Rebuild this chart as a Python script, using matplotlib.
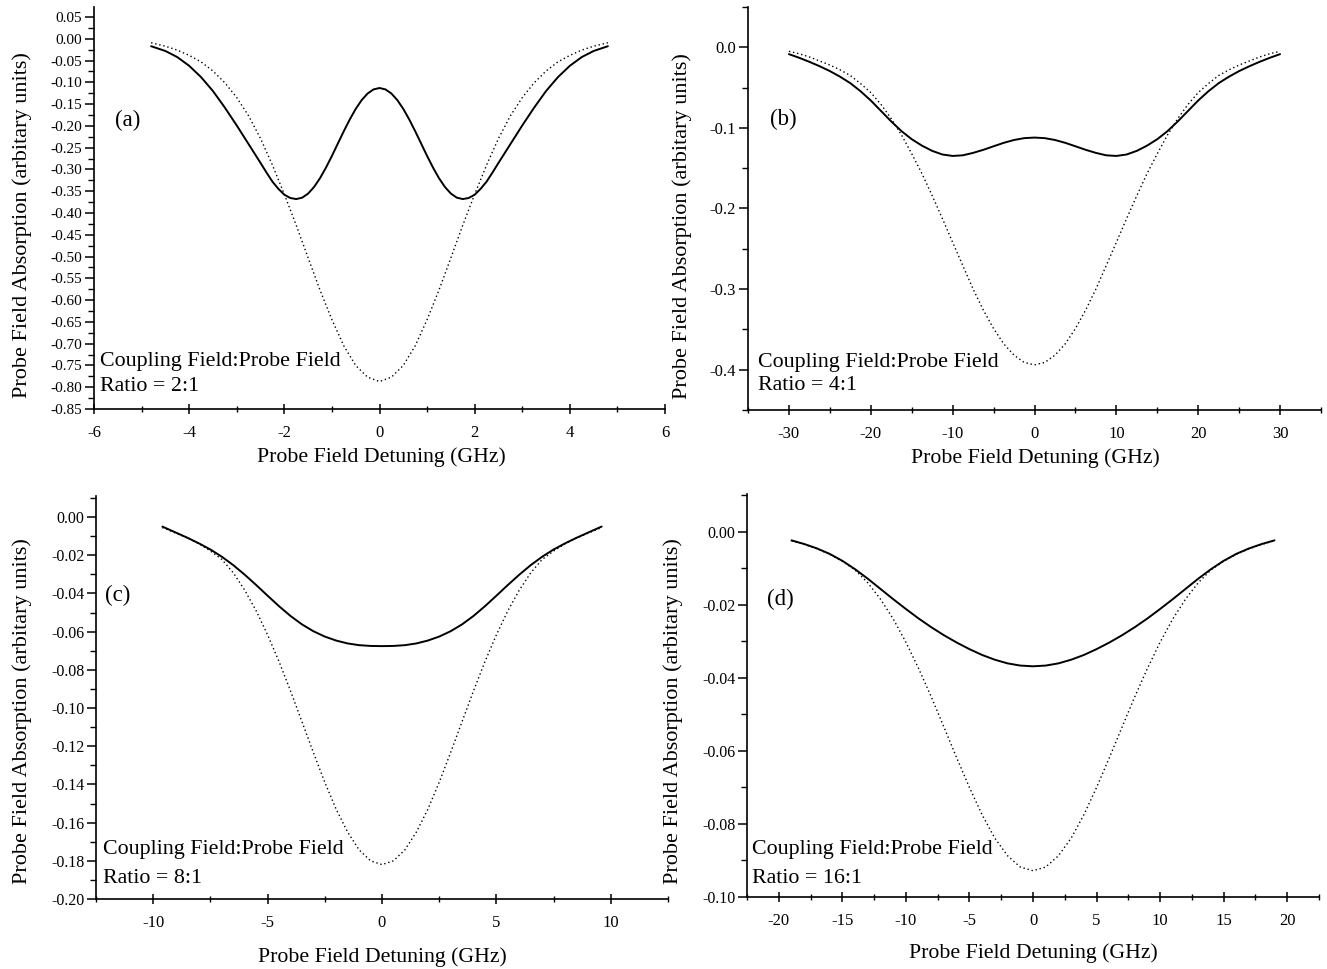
import matplotlib
matplotlib.use("Agg")
import matplotlib.pyplot as plt
from matplotlib.ticker import MultipleLocator, FuncFormatter

plt.rcParams['font.family'] = ['Liberation Serif', 'DejaVu Serif']
plt.rcParams['axes.unicode_minus'] = False

# ---------------- data ----------------
# Panel (a)  ratio 2:1  -- solid (with coupling field)
detuning_a_solid = [-4.8, -4.5, -4.25, -4.0, -3.75, -3.5, -3.25, -3.0, -2.75, -2.5, -2.375, -2.25, -2.125,
                    -2.0, -1.875, -1.75, -1.625, -1.5, -1.375, -1.25, -1.125, -1.0, -0.875, -0.75, -0.625,
                    -0.5, -0.375, -0.25, -0.125, 0.0, 0.125, 0.25, 0.375, 0.5, 0.625, 0.75, 0.875, 1.0,
                    1.125, 1.25, 1.375, 1.5, 1.625, 1.75, 1.875, 2.0, 2.125, 2.25, 2.375, 2.5, 2.75, 3.0,
                    3.25, 3.5, 3.75, 4.0, 4.25, 4.5, 4.8]
coupled_a = [-0.017, -0.028, -0.042, -0.062, -0.088, -0.120, -0.158, -0.199, -0.242, -0.285, -0.307, -0.328, -0.3445,
             -0.358, -0.3655, -0.368, -0.3648, -0.3554, -0.3402, -0.3200, -0.2958, -0.2689, -0.2405, -0.2121, -0.1852,
             -0.1610, -0.1408, -0.1256, -0.1162, -0.113, -0.1162, -0.1256, -0.1408, -0.1610, -0.1852, -0.2121, -0.2405, -0.2689,
             -0.2958, -0.3200, -0.3402, -0.3554, -0.3648, -0.368, -0.3655, -0.358, -0.3445, -0.328, -0.307, -0.285, -0.242, -0.199,
             -0.158, -0.120, -0.088, -0.062, -0.042, -0.028, -0.017]
# Panel (a) dotted (no coupling field)
detuning_a_dot = [-4.8, -4.5, -4.25, -4.0, -3.75, -3.5, -3.25, -3.0, -2.75, -2.5, -2.25, -2.0,
                  -1.75, -1.5, -1.25, -1.0, -0.75, -0.5, -0.25, 0.0, 0.25, 0.5, 0.75, 1.0,
                  1.25, 1.5, 1.75, 2.0, 2.25, 2.5, 2.75, 3.0, 3.25, 3.5, 3.75, 4.0, 4.25, 4.5, 4.8]
bare_a = [-0.009, -0.017, -0.026, -0.038, -0.053, -0.074, -0.101, -0.135, -0.177, -0.229, -0.290, -0.357,
          -0.428, -0.503, -0.577, -0.645, -0.705, -0.750, -0.777, -0.787, -0.777, -0.750, -0.705, -0.645,
          -0.577, -0.503, -0.428, -0.357, -0.290, -0.229, -0.177, -0.135, -0.101, -0.074, -0.053, -0.038, -0.026, -0.017, -0.009]

# Panel (b)  ratio 4:1
detuning_b = [-30.0, -28.75, -27.5, -26.25, -25.0, -23.75, -22.5, -21.25, -20.0, -18.75, -17.5, -16.25,
              -15.0, -13.75, -12.5, -11.25, -10.0, -8.75, -7.5, -6.25, -5.0, -3.75, -2.5, -1.25, 0.0,
              1.25, 2.5, 3.75, 5.0, 6.25, 7.5, 8.75, 10.0, 11.25, 12.5, 13.75, 15.0, 16.25, 17.5,
              18.75, 20.0, 21.25, 22.5, 23.75, 25.0, 26.25, 27.5, 28.75, 30.0]
coupled_b = [-0.0085, -0.0130, -0.0180, -0.0235, -0.0295, -0.0365, -0.0445, -0.0545, -0.0660, -0.0790, -0.0920, -0.1040,
             -0.1140, -0.1220, -0.1285, -0.1330, -0.1348, -0.1340, -0.1310, -0.1272, -0.1228, -0.1185, -0.1150, -0.1127, -0.1120,
             -0.1127, -0.1150, -0.1185, -0.1228, -0.1272, -0.1310, -0.1340, -0.1348, -0.1330, -0.1285, -0.1220, -0.1140, -0.1040, -0.0920,
             -0.0790, -0.0660, -0.0545, -0.0445, -0.0365, -0.0295, -0.0235, -0.0180, -0.0130, -0.0085]
bare_b = [-0.005, -0.008, -0.012, -0.017, -0.022, -0.028, -0.035, -0.045, -0.0562, -0.0709, -0.0885, -0.1087,
          -0.132, -0.1567, -0.184, -0.2125, -0.242, -0.271, -0.300, -0.326, -0.349, -0.368, -0.382, -0.391, -0.394,
          -0.391, -0.382, -0.368, -0.349, -0.326, -0.300, -0.271, -0.242, -0.2125, -0.184, -0.1567, -0.132, -0.1087, -0.0885,
          -0.0709, -0.0562, -0.045, -0.035, -0.028, -0.022, -0.017, -0.012, -0.008, -0.005]

# Panel (c)  ratio 8:1
detuning_c = [-9.6, -9.0, -8.5, -8.0, -7.5, -7.0, -6.5, -6.0, -5.5, -5.0, -4.5, -4.0, -3.5, -3.0, -2.5, -2.0,
              -1.5, -1.0, -0.5, 0.0, 0.5, 1.0, 1.5, 2.0, 2.5, 3.0, 3.5, 4.0, 4.5, 5.0, 5.5, 6.0, 6.5,
              7.0, 7.5, 8.0, 8.5, 9.0, 9.6]
coupled_c = [-0.0050, -0.0082, -0.0109, -0.0138, -0.0170, -0.0208, -0.0252, -0.0302, -0.0356, -0.0412, -0.0467,
             -0.0518, -0.0562, -0.0598, -0.0626, -0.0647, -0.0662, -0.0671, -0.0675, -0.0676, -0.0675, -0.0671,
             -0.0662, -0.0647, -0.0626, -0.0598, -0.0562, -0.0518, -0.0467, -0.0412, -0.0356, -0.0302, -0.0252,
             -0.0208, -0.0170, -0.0138, -0.0109, -0.0082, -0.0050]
bare_c = [-0.0055, -0.0085, -0.0110, -0.0140, -0.0178, -0.0222, -0.0292, -0.0383, -0.0491, -0.0617, -0.0757,
          -0.0910, -0.1071, -0.1233, -0.1389, -0.1531, -0.1650, -0.1743, -0.1800, -0.1820, -0.1800, -0.1743,
          -0.1650, -0.1531, -0.1389, -0.1233, -0.1071, -0.0910, -0.0757, -0.0617, -0.0491, -0.0383, -0.0292,
          -0.0222, -0.0178, -0.0140, -0.0110, -0.0085, -0.0055]

# Panel (d)  ratio 16:1
detuning_d = [-19, -18, -17, -16, -15, -14, -13, -12, -11, -10, -9, -8, -7, -6, -5, -4, -3, -2, -1, 0,
              1, 2, 3, 4, 5, 6, 7, 8, 9, 10, 11, 12, 13, 14, 15, 16, 17, 18, 19]
coupled_d = [-0.0023, -0.0033, -0.0045, -0.0060, -0.0079, -0.0102, -0.0128, -0.0156, -0.0184, -0.0211,
             -0.0237, -0.0261, -0.0283, -0.0303, -0.0321, -0.0337, -0.0350, -0.0360, -0.0366, -0.0368,
             -0.0366, -0.0360, -0.0350, -0.0337, -0.0321, -0.0303, -0.0283, -0.0261, -0.0237, -0.0211,
             -0.0184, -0.0156, -0.0128, -0.0102, -0.0079, -0.0060, -0.0045, -0.0033, -0.0023]
bare_d = [-0.0024, -0.0034, -0.0046, -0.0061, -0.0080, -0.0104, -0.0139, -0.0184, -0.0238, -0.0302,
          -0.0374, -0.0452, -0.0535, -0.0619, -0.0700, -0.0775, -0.0839, -0.0887, -0.0918, -0.0928,
          -0.0918, -0.0887, -0.0839, -0.0775, -0.0700, -0.0619, -0.0535, -0.0452, -0.0374, -0.0302,
          -0.0238, -0.0184, -0.0139, -0.0104, -0.0080, -0.0061, -0.0046, -0.0034, -0.0024]

panel_tags = ["(a)", "(b)", "(c)", "(d)"]
ratio_texts = ["Ratio = 2:1", "Ratio = 4:1", "Ratio = 8:1", "Ratio = 16:1"]
coupling_text = "Coupling Field:Probe Field"
x_label = "Probe Field Detuning (GHz)"
y_label = "Probe Field Absorption (arbitary units)"

# ---------------- layout ----------------
fig = plt.figure(figsize=(13.27, 9.69), dpi=100)
W, H = 1327.0, 969.0

def rect(l, r, t, b):
    return [l / W, 1 - b / H, (r - l) / W, (b - t) / H]

specs = [
    dict(rect=rect(94, 665, 7, 409), xs=detuning_a_solid, s=coupled_a, xd=detuning_a_dot, d=bare_a,
         xlim=(-6, 6), ylim=(-0.85, 0.073), xmaj=2, xmin=1, ymaj=0.05, ymin=0.025, yfmt="%.2f",
         tag=(0.037, 0.719), coup=(0.011, 0.117), rat=(0.011, 0.057),
         ylab=(-0.126, 0.458), xlab=(0.503, -0.119), ytsize=11),
    dict(rect=rect(748, 1321, 7, 410), xs=detuning_b, s=coupled_b, xd=detuning_b, d=bare_b,
         xlim=(-35, 35), ylim=(-0.45, 0.05), xmaj=10, xmin=5, ymaj=0.1, ymin=0.05, yfmt="%.1f",
         tag=(0.038, 0.72), coup=(0.017, 0.119), rat=(0.017, 0.062),
         ylab=(-0.115, 0.457), xlab=(0.501, -0.119), ytsize=12),
    dict(rect=rect(96, 668, 496, 899), xs=detuning_c, s=coupled_c, xd=detuning_c, d=bare_c,
         xlim=(-12.5, 12.5), ylim=(-0.20, 0.011), xmaj=5, xmin=2.5, ymaj=0.02, ymin=0.01, yfmt="%.2f",
         tag=(0.016, 0.752), coup=(0.012, 0.122), rat=(0.012, 0.05),
         ylab=(-0.129, 0.466), xlab=(0.5, -0.144), ytsize=11.5),
    dict(rect=rect(747, 1319, 494, 897), xs=detuning_d, s=coupled_d, xd=detuning_d, d=bare_d,
         xlim=(-22.5, 22.5), ylim=(-0.10, 0.0104), xmaj=5, xmin=2.5, ymaj=0.02, ymin=0.01, yfmt="%.2f",
         tag=(0.035, 0.739), coup=(0.009, 0.117), rat=(0.009, 0.047),
         ylab=(-0.129, 0.462), xlab=(0.5, -0.139), ytsize=11.5),
]

def yformatter(fmt):
    def f(v, p):
        if abs(v) < 1e-9:
            return fmt % 0.0
        return fmt % v
    return FuncFormatter(f)

for i, sp in enumerate(specs):
    ax = fig.add_axes(sp["rect"])
    ax.plot(sp["xd"], sp["d"], color="black", lw=1.0, linestyle=(0, (1, 2)))
    ax.plot(sp["xs"], sp["s"], color="black", lw=1.4, solid_capstyle="round", solid_joinstyle="round")
    ax.set_xlim(*sp["xlim"])
    ax.set_ylim(*sp["ylim"])
    for side in ("top", "right"):
        ax.spines[side].set_visible(False)
    for side in ("left", "bottom"):
        ax.spines[side].set_linewidth(1.2)
    ax.xaxis.set_major_locator(MultipleLocator(sp["xmaj"]))
    ax.xaxis.set_minor_locator(MultipleLocator(sp["xmin"]))
    ax.yaxis.set_major_locator(MultipleLocator(sp["ymaj"]))
    ax.yaxis.set_minor_locator(MultipleLocator(sp["ymin"]))
    ax.yaxis.set_major_formatter(yformatter(sp["yfmt"]))
    ax.xaxis.set_major_formatter(FuncFormatter(lambda v, p: "%g" % v if abs(v) > 1e-9 else "0"))
    ax.tick_params(axis="y", which="major", direction="out", length=6.5, width=1.1, pad=2, labelsize=sp["ytsize"])
    ax.tick_params(axis="y", which="minor", direction="out", length=4, width=1.0)
    ax.tick_params(axis="x", which="major", direction="inout", length=7, width=1.1, pad=8, labelsize=12)
    ax.tick_params(axis="x", which="minor", direction="inout", length=5, width=1.0)
    ax.set_xlabel(x_label, fontsize=15.7)
    ax.set_ylabel(y_label, fontsize=16)
    ax.xaxis.label.set_va("center")
    ax.yaxis.label.set_va("center")
    ax.xaxis.set_label_coords(*sp["xlab"])
    ax.yaxis.set_label_coords(*sp["ylab"])
    ax.patch.set_alpha(0)
    ax.text(sp["tag"][0], sp["tag"][1], panel_tags[i], transform=ax.transAxes,
            fontsize=16.5, ha="left", va="center")
    ax.text(sp["coup"][0], sp["coup"][1], coupling_text, transform=ax.transAxes,
            fontsize=15.8, ha="left", va="center")
    ax.text(sp["rat"][0], sp["rat"][1], ratio_texts[i], transform=ax.transAxes,
            fontsize=15.8, ha="left", va="center")

fig.savefig("out.png", dpi=100)
